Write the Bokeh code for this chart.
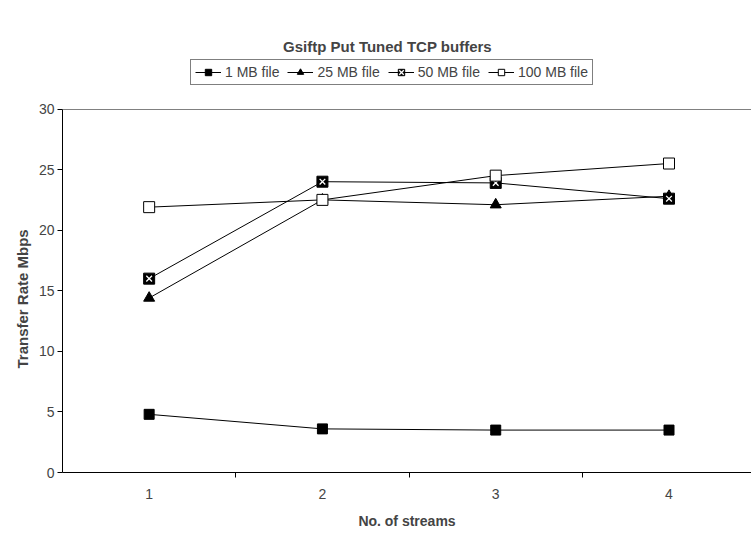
from bokeh.plotting import figure
from bokeh.models import FixedTicker, Legend, LegendItem, Range1d, Title, Label
from bokeh.embed import file_html
from bokeh.resources import INLINE

streams = [1, 2, 3, 4]
mb1 = [4.8, 3.6, 3.5, 3.5]
mb25 = [14.4, 22.5, 22.1, 22.8]
mb50 = [16.0, 24.0, 23.9, 22.6]
mb100 = [21.9, 22.5, 24.5, 25.5]
series_names = ["1 MB file", "25 MB file", "50 MB file", "100 MB file"]
y_ticks = [0, 5, 10, 15, 20, 25, 30]
title_text = "Gsiftp Put Tuned TCP buffers"

FONT = "Liberation Sans"
FRAME_BOTTOM = 472
PX_PER_UNIT = (472 - 108.5) / 30.0
Y_END = FRAME_BOTTOM / PX_PER_UNIT

p = figure(width=751, height=539, output_backend="svg", toolbar_location=None,
           x_range=Range1d(0.5, 4.476), y_range=Range1d(0, Y_END),
           min_border_left=62, min_border_right=0, min_border_top=0,
           min_border_bottom=539 - FRAME_BOTTOM)
p.outline_line_color = None
p.background_fill_color = "white"
p.border_fill_color = "white"

r1l = p.line(streams, mb1, line_color="black", line_width=1)
r1m = p.scatter(streams, mb1, marker="square", size=10, fill_color="black", line_color="black")
r2l = p.line(streams, mb25, line_color="black", line_width=1)
r2m = p.scatter(streams, mb25, marker="triangle", size=11, fill_color="black", line_color="black")
r3l = p.line(streams, mb50, line_color="black", line_width=1)
r3m = p.scatter(streams, mb50, marker="square", size=11, fill_color="black", line_color="black")
r3x = p.scatter(streams, mb50, marker="x", size=8, line_color="white", line_width=1.3)
r4l = p.line(streams, mb100, line_color="black", line_width=1)
r4m = p.scatter(streams, mb100, marker="square", size=11, fill_color="white", line_color="black")

# x axis
p.xaxis.ticker = FixedTicker(ticks=streams, minor_ticks=[1.5, 2.5, 3.5, 4.5])
p.xaxis.major_tick_out = 0
p.xaxis.major_tick_in = 0
p.xaxis.minor_tick_out = 5
p.xaxis.minor_tick_in = 0
p.xaxis.minor_tick_line_color = "black"
p.xaxis.axis_line_color = "black"
p.xaxis.major_label_text_font = FONT
p.xaxis.major_label_text_font_size = "14px"
p.xaxis.major_label_standoff = 11
p.xaxis.axis_label = "No. of streams"
p.xaxis.axis_label_text_font = FONT
p.xaxis.axis_label_text_font_style = "bold"
p.xaxis.axis_label_text_font_size = "14px"
p.xaxis.axis_label_standoff = 11

# y axis
p.yaxis.ticker = FixedTicker(ticks=y_ticks)
p.yaxis.bounds = (0, 30)
p.yaxis.minor_tick_line_color = None
p.yaxis.major_tick_out = 5
p.yaxis.major_tick_in = 0
p.yaxis.axis_line_color = "black"
p.yaxis.major_label_text_font = FONT
p.yaxis.major_label_text_font_size = "14px"
p.yaxis.major_label_standoff = 3

ytitle = Title(text="Transfer Rate Mbps", align="left", offset=104,
               text_font=FONT, text_font_style="bold", text_font_size="15px",
               standoff=10)
p.add_layout(ytitle, "left")

p.xgrid.grid_line_color = None
p.ygrid.ticker = FixedTicker(ticks=[30])
p.ygrid.grid_line_color = "#808080"

p.add_layout(Label(x=325, y=FRAME_BOTTOM - 46, x_units="screen", y_units="screen",
                   text=title_text, text_font=FONT, text_font_style="bold",
                   text_font_size="15px", text_align="center", text_baseline="middle"))

legend = Legend(items=[
    LegendItem(label=series_names[0], renderers=[r1l, r1m]),
    LegendItem(label=series_names[1], renderers=[r2l, r2m]),
    LegendItem(label=series_names[2], renderers=[r3l, r3m, r3x]),
    LegendItem(label=series_names[3], renderers=[r4l, r4m]),
], orientation="horizontal", location=(128, FRAME_BOTTOM - 85),
    label_text_font=FONT, label_text_font_size="14px",
    border_line_color="black", border_line_width=1,
    padding=4, spacing=8, glyph_width=26, glyph_height=16, label_standoff=4,
    margin=0, background_fill_alpha=1)
p.add_layout(legend, "center")

open("out.html", "w").write(file_html(p, INLINE))
